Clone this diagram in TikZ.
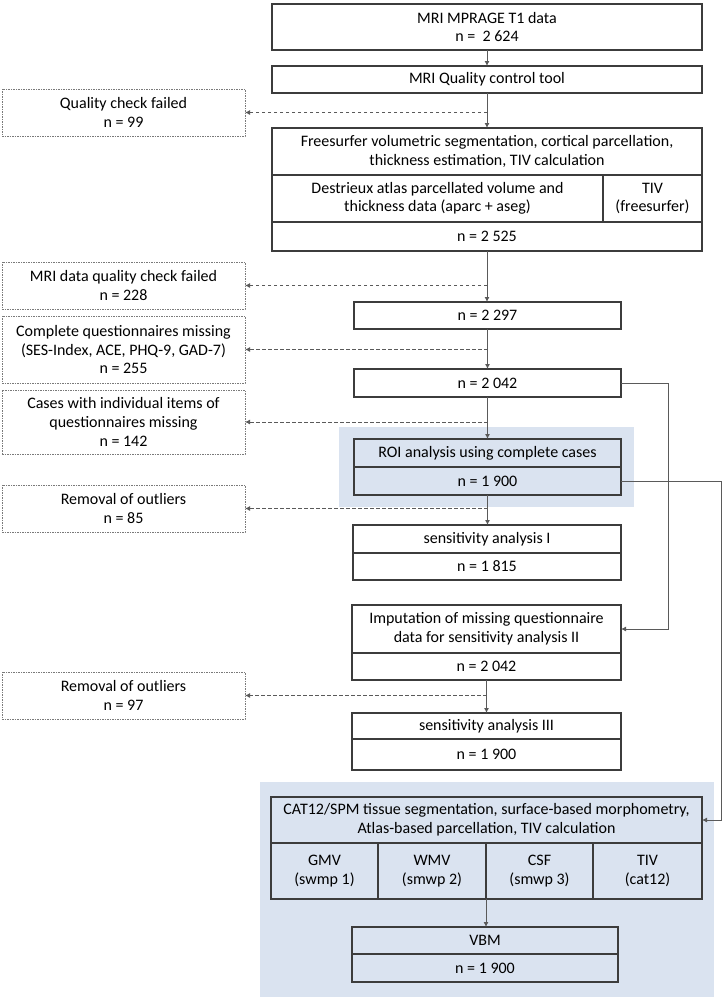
\documentclass[tikz,border=0pt]{standalone}
\usepackage{fontspec}
\setmainfont{Carlito}
\usetikzlibrary{arrows.meta}
\definecolor{bgblue}{HTML}{DAE3F0}
\definecolor{boxline}{HTML}{3C3C3C}
\definecolor{conn}{HTML}{5A5A5A}
\definecolor{dashline}{HTML}{7A7A7A}
\tikzset{
  cell/.style={draw=boxline, line width=1.1pt, rectangle, inner sep=0pt, outer sep=0pt, align=center,
     font=\fontsize{16}{18.6}\selectfont, text=black},
  excl/.style={draw=dashline, line width=0.8pt, dash pattern=on 1.5pt off 1pt, rectangle, inner sep=0pt, outer sep=0pt,
     align=center, font=\fontsize{16}{18.6}\selectfont, minimum width=243pt},
  bgpanel/.style={fill=bgblue, draw=none, rectangle, inner sep=0pt, outer sep=0pt},
  flow/.style={draw=conn, line width=0.9pt, -{Latex[length=5pt,width=5pt]}},
  drop/.style={draw=conn, line width=0.9pt, dash pattern=on 3.5pt off 2.5pt, -{Latex[length=5pt,width=5pt]}},
  blue/.style={fill=bgblue}
}
\begin{document}
\begin{tikzpicture}[x=1pt,y=-1pt]
\useasboundingbox (0,0) rectangle (723,999);
% background panels
\node[bgpanel, minimum width=295pt, minimum height=80pt] (bgroi) at (486.5,467) {};
\node[bgpanel, minimum width=454pt, minimum height=215pt] (bgcat) at (487,889.5) {};
% main column
\node[cell, minimum width=430pt, minimum height=46pt] (b1) at (487,27) {MRI MPRAGE T1 data\\n =\ \ 2 624};
\node[cell, minimum width=430pt, minimum height=27pt] (b2) at (487,79.5) {MRI Quality control tool};
\node[cell, minimum width=430pt, minimum height=47pt] (f1) at (487,151.5) {Freesurfer volumetric segmentation, cortical parcellation,\\thickness estimation, TIV calculation};
\node[cell, minimum width=331pt, minimum height=47pt] (f2a) at (437.5,198.5) {Destrieux atlas parcellated volume and\\thickness data (aparc + aseg)};
\node[cell, minimum width=99pt, minimum height=47pt] (f2b) at (652.5,198.5) {TIV\\(freesurfer)};
\node[cell, minimum width=430pt, minimum height=29pt] (f3) at (487,236.5) {n = 2 525};
\node[cell, minimum width=267pt, minimum height=27pt] (n1) at (487.5,315.5) {n = 2 297};
\node[cell, minimum width=267pt, minimum height=28pt] (n2) at (487.5,383) {n = 2 042};
\node[cell, blue, minimum width=267pt, minimum height=28pt] (roiA) at (487.5,453) {ROI analysis using complete cases};
\node[cell, blue, minimum width=267pt, minimum height=28pt] (roiB) at (487.5,481) {n = 1 900};
\node[cell, minimum width=268pt, minimum height=28pt] (s1A) at (487,539) {sensitivity analysis I};
\node[cell, minimum width=268pt, minimum height=27pt] (s1B) at (487,566.5) {n = 1 815};
\node[cell, minimum width=269pt, minimum height=48pt] (impA) at (486.5,629) {Imputation of missing questionnaire\\data for sensitivity analysis II};
\node[cell, minimum width=269pt, minimum height=27pt] (impB) at (486.5,666.5) {n = 2 042};
\node[cell, minimum width=269pt, minimum height=26pt] (s3A) at (486.5,726) {sensitivity analysis III};
\node[cell, minimum width=269pt, minimum height=31pt] (s3B) at (486.5,754.5) {n = 1 900};
\node[cell, blue, minimum width=431pt, minimum height=46pt] (catA) at (486.5,820) {CAT12/SPM tissue segmentation, surface-based morphometry,\\Atlas-based parcellation, TIV calculation};
\node[cell, blue, minimum width=107pt, minimum height=56pt] (c1) at (324.5,871) {GMV\\(swmp 1)};
\node[cell, blue, minimum width=108pt, minimum height=56pt] (c2) at (432,871) {WMV\\(smwp 2)};
\node[cell, blue, minimum width=107pt, minimum height=56pt] (c3) at (539.5,871) {CSF\\(smwp 3)};
\node[cell, blue, minimum width=109pt, minimum height=56pt] (c4) at (647.5,871) {TIV\\(cat12)};
\node[cell, minimum width=266pt, minimum height=27pt] (vA) at (485,940.5) {VBM};
\node[cell, minimum width=266pt, minimum height=28pt] (vB) at (485,968) {n = 1 900};
% exclusion boxes
\node[excl, minimum height=47pt] (q1) at (123.5,112.5) {Quality check failed\\n = 99};
\node[excl, minimum height=47pt] (q2) at (123.5,285.5) {MRI data quality check failed\\n = 228};
\node[excl, minimum height=67pt] (q3) at (123.5,349.5) {Complete questionnaires missing\\(SES-Index, ACE, PHQ-9, GAD-7)\\n = 255};
\node[excl, minimum height=64pt] (q4) at (123.5,422) {Cases with individual items of\\questionnaires missing\\n = 142};
\node[excl, minimum height=47pt] (q5) at (123.5,508.5) {Removal of outliers\\n = 85};
\node[excl, minimum height=47pt] (q6) at (123.5,695.5) {Removal of outliers\\n = 97};
% helper coordinates
\coordinate (rx1) at (668,0);
\coordinate (rx2) at (721,0);
% flow arrows
\draw[flow] (b1.south) -- (b1.south |- b2.north);
\draw[flow] (b2.south) -- (b2.south |- f1.north);
\draw[flow] (f3.south) -- (f3.south |- n1.north);
\draw[flow] (n1.south) -- (n1.south |- n2.north);
\draw[flow] (n2.south) -- (n2.south |- roiA.north);
\draw[flow] (roiB.south) -- (roiB.south |- s1A.north);
\draw[flow] (impB.south) -- (impB.south |- s3A.north);
\draw[flow] (c2.south east) -- (c2.south east |- vA.north);
\draw[flow] (n2.east) -- (n2.east -| rx1) |- (impA.east);
\draw[flow] (roiB.east) -- (roiB.east -| rx2) |- (catA.east);
% exclusion arrows
\draw[drop] (q1.east -| b2.south) -- (q1.east);
\draw[drop] (q2.east -| f3.south) -- (q2.east);
\draw[drop] (q3.east -| n1.south) -- (q3.east);
\draw[drop] (q4.east -| n2.south) -- (q4.east);
\draw[drop] (q5.east -| roiB.south) -- (q5.east);
\draw[drop] (q6.east -| impB.south) -- (q6.east);
\end{tikzpicture}
\end{document}
